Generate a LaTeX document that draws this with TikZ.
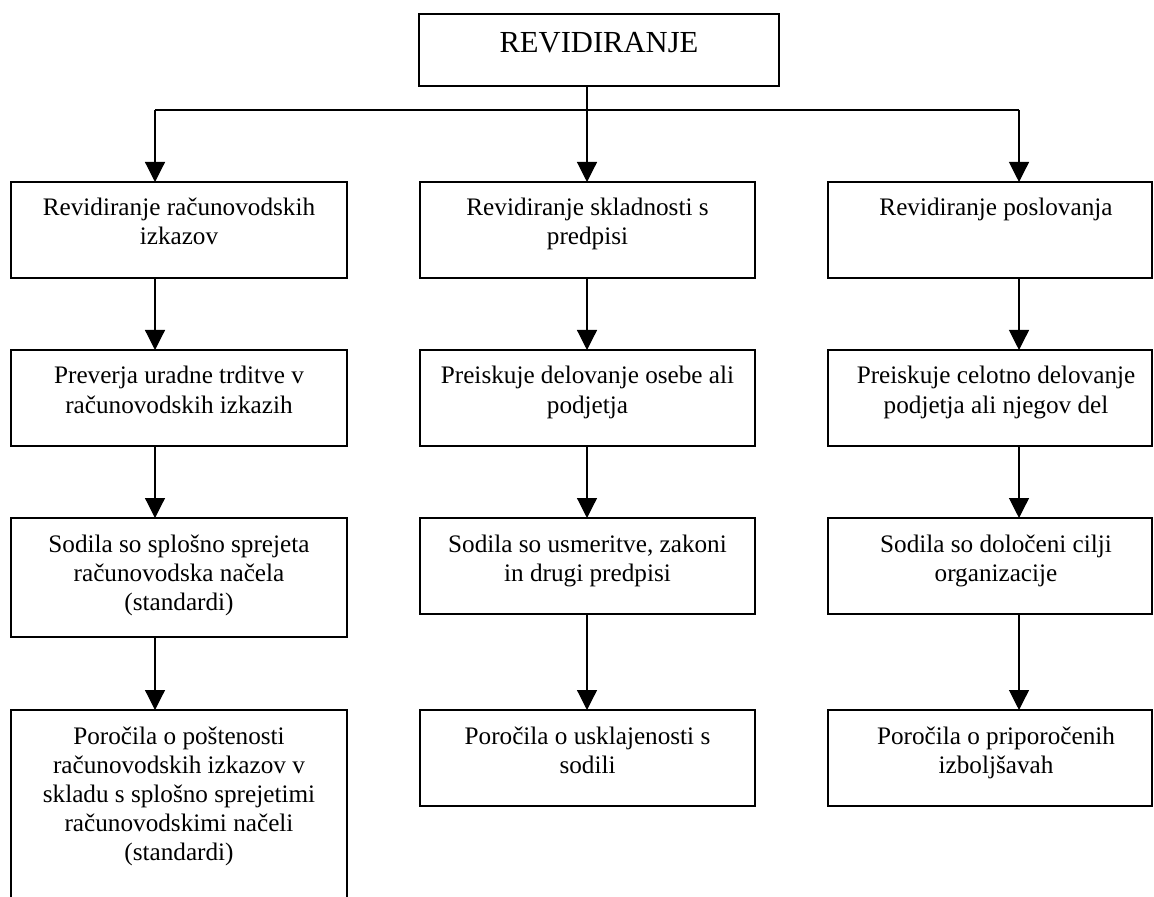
\documentclass[tikz,border=0pt]{standalone}
\usepackage{fontspec}
\setmainfont{Liberation Serif}
\usetikzlibrary{arrows.meta}
\newcommand\cell[3]{\parbox[c][#2][t]{#1}{\centering\rule{0pt}{17pt}#3\par}}
\newcommand\cellR[3]{\makebox[162pt][l]{\parbox[c][#2][t]{#1}{\centering\rule{0pt}{17pt}#3\par}}}
\begin{document}
\begin{tikzpicture}[x=0.5pt,y=-0.5pt,
  box/.style={draw,line width=0.6pt,inner sep=0pt,outer sep=0pt,anchor=north west,font=\fontsize{12.6}{14.5}\selectfont},
  link/.style={line width=0.6pt},
  arr/.style={link,-{Triangle[width=10pt,length=10pt]}}]
\useasboundingbox (0,0) rectangle (1154,897);
\clip (0,0) rectangle (1154,897);
% top
\node[box] (top) at (419,14) {\parbox[c][36pt][t]{180pt}{\centering\fontsize{15.3}{18}\selectfont\rule{0pt}{19.5pt}REVIDIRANJE\par}};
% bus
\coordinate (b1) at (155,110);
\coordinate (b2) at (587,110);
\coordinate (b3) at (1019,110);
% column 1
\node[box] (c1r1) at (11,182) {\cell{168pt}{48pt}{Revidiranje računovodskih\\izkazov}};
\node[box] (c1r2) at (11,350) {\cell{168pt}{48pt}{Preverja uradne trditve v\\računovodskih izkazih}};
\node[box] (c1r3) at (11,518) {\cell{168pt}{59.5pt}{Sodila so splošno sprejeta\\računovodska načela\\(standardi)}};
\node[box] (c1r4) at (11,710) {\cell{168pt}{100pt}{Poročila o poštenosti\\računovodskih izkazov v\\skladu s splošno sprejetimi\\računovodskimi načeli\\(standardi)}};
% column 2
\node[box] (c2r1) at (420,182) {\cell{167.5pt}{48pt}{Revidiranje skladnosti s\\predpisi}};
\node[box] (c2r2) at (420,350) {\cell{167.5pt}{48pt}{Preiskuje delovanje osebe ali\\podjetja}};
\node[box] (c2r3) at (420,518) {\cell{167.5pt}{48pt}{Sodila so usmeritve, zakoni\\in drugi predpisi}};
\node[box] (c2r4) at (420,710) {\cell{167.5pt}{48pt}{Poročila o usklajenosti s\\sodili}};
% column 3
\node[box] (c3r1) at (828,182) {\cellR{168pt}{48pt}{Revidiranje poslovanja}};
\node[box] (c3r2) at (828,350) {\cellR{168pt}{48pt}{Preiskuje celotno delovanje\\podjetja ali njegov del}};
\node[box] (c3r3) at (828,518) {\cellR{168pt}{48pt}{Sodila so določeni cilji\\organizacije}};
\node[box] (c3r4) at (828,710) {\cellR{168pt}{48pt}{Poročila o priporočenih\\izboljšavah}};
% connectors
\draw[link] (top.south -| b2) -- (b2);
\draw[link] (b1) -- (b3);
\draw[arr] (b1) -- (c1r1.north -| b1);
\draw[arr] (b2) -- (c2r1.north -| b2);
\draw[arr] (b3) -- (c3r1.north -| b3);
\draw[arr] (c1r1.south -| b1) -- (c1r2.north -| b1);
\draw[arr] (c1r2.south -| b1) -- (c1r3.north -| b1);
\draw[arr] (c1r3.south -| b1) -- (c1r4.north -| b1);
\draw[arr] (c2r1.south -| b2) -- (c2r2.north -| b2);
\draw[arr] (c2r2.south -| b2) -- (c2r3.north -| b2);
\draw[arr] (c2r3.south -| b2) -- (c2r4.north -| b2);
\draw[arr] (c3r1.south -| b3) -- (c3r2.north -| b3);
\draw[arr] (c3r2.south -| b3) -- (c3r3.north -| b3);
\draw[arr] (c3r3.south -| b3) -- (c3r4.north -| b3);
\end{tikzpicture}
\end{document}
